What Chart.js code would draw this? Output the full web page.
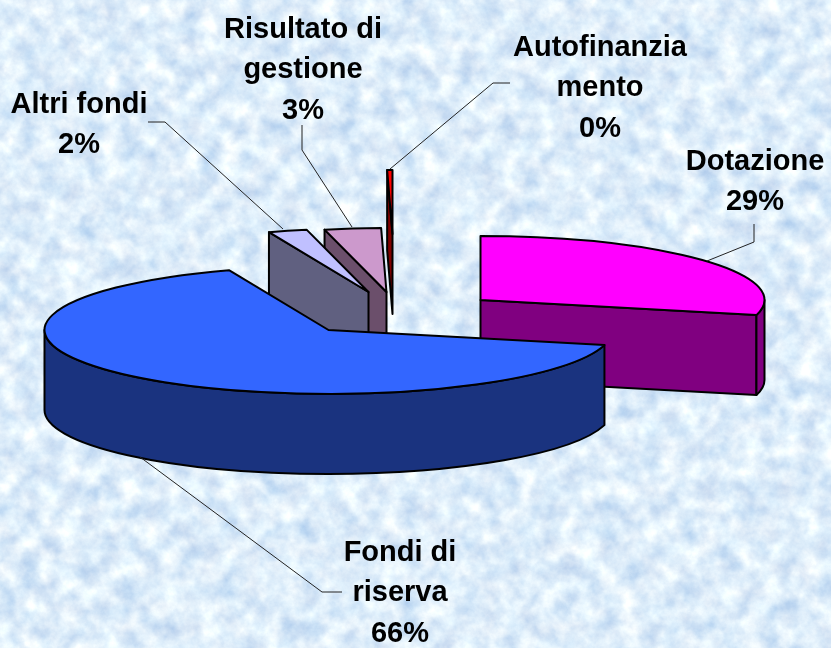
<!DOCTYPE html>
<html>
<head>
<meta charset="utf-8">
<style>
html,body{margin:0;padding:0;width:831px;height:648px;overflow:hidden;background:#dcebfb;}
#bg{position:absolute;left:0;top:0;}
#wrap{position:absolute;left:0;top:0;width:831px;height:648px;}
</style>
<script src="https://cdn.jsdelivr.net/npm/chart.js@4/dist/chart.umd.min.js"></script>
</head>
<body>
<svg id="bg" width="831" height="648" xmlns="http://www.w3.org/2000/svg">
  <filter id="mottle" x="0" y="0" width="100%" height="100%" color-interpolation-filters="sRGB">
    <feTurbulence type="fractalNoise" baseFrequency="0.05" numOctaves="5" seed="7"/>
    <feColorMatrix type="matrix" values="
      0.38 0.12 0 0 0.62
      0.28 0.05 0 0 0.765
      0.12 0    0 0 0.92
      0 0 0 0 1"/>
  </filter>
  <rect width="831" height="648" filter="url(#mottle)"/>
</svg>
<div id="wrap"><canvas id="c" width="831" height="648"></canvas></div>
<script>
// Data
const categories = ['Dotazione', 'Fondi di riserva', 'Altri fondi', 'Risultato di gestione', 'Autofinanziamento'];
const values = [28.8, 65.5, 2.2, 3.2, 0.3];
const labelLines = [['Dotazione'], ['Fondi di', 'riserva'], ['Altri fondi'], ['Risultato di', 'gestione'], ['Autofinanzia', 'mento']];

// Style
const topColors = ['#ff00ff', '#3366ff', '#c0c0ff', '#cc99cc', '#ff0000'];
const wallColors = ['#800080', '#1a337f', '#606080', '#6b4f6b', '#800000'];

// Layout of the exploded 3D look
const tilt = 0.225, depth = 80;
const sliceShift = [[65, -24], [-87, 6], [-47, -32], [-29, -32], [-23, -90]];
const paintOrder = [4, 3, 2, 0, 1];
const labelCentres = [[755, 159], [400, 550], [79, 102], [303, 27], [600, 45]];
const lineGap = 40.3;
const leaders = [
  [[754, 224], [754, 242], [707, 261]],
  [[342, 592], [322, 592], [140, 457]],
  [[148, 122], [165, 122], [283, 229]],
  [[302, 125], [302, 150], [352, 227]],
  [[510, 83], [493, 83], [390, 169]]
];

const pie3d = {
  id: 'pie3d',
  beforeDatasetsDraw(chart) {
    const ctx = chart.ctx;
    const arcs = chart.getDatasetMeta(0).data;
    ctx.save();
    ctx.lineJoin = 'round';
    ctx.strokeStyle = '#000';
    ctx.lineWidth = 2;
    paintOrder.forEach(i => {
      const arc = arcs[i];
      const R = arc.outerRadius, s = arc.startAngle, e = arc.endAngle;
      const cx = arc.x + sliceShift[i][0], cy = arc.y + sliceShift[i][1];
      const px = a => cx + R * Math.cos(a), py = a => cy + R * tilt * Math.sin(a);
      const finish = () => { ctx.closePath(); ctx.fillStyle = wallColors[i]; ctx.fill(); ctx.stroke(); };
      const radial = a => {
        ctx.beginPath();
        ctx.moveTo(cx, cy); ctx.lineTo(px(a), py(a));
        ctx.lineTo(px(a), py(a) + depth); ctx.lineTo(cx, cy + depth);
        finish();
      };
      if (Math.cos(s) < 0) radial(s);
      if (Math.cos(e) > 0) radial(e);
      const a0 = Math.max(s, 0), a1 = Math.min(e, Math.PI);
      if (a1 > a0) {
        ctx.beginPath();
        ctx.ellipse(cx, cy, R, R * tilt, 0, a0, a1);
        ctx.lineTo(px(a1), py(a1) + depth);
        ctx.ellipse(cx, cy + depth, R, R * tilt, 0, a1, a0, true);
        finish();
      }
      // top face, drawn by the library's own arc element
      ctx.save();
      ctx.translate(cx, cy);
      ctx.scale(1, tilt);
      ctx.translate(-arc.x, -arc.y);
      arc.draw(ctx);
      ctx.restore();
      ctx.beginPath();
      ctx.moveTo(cx, cy);
      ctx.ellipse(cx, cy, R, R * tilt, 0, s, e);
      ctx.closePath();
      ctx.stroke();
    });
    ctx.restore();
    return false;
  },
  afterDraw(chart) {
    const ctx = chart.ctx;
    ctx.save();
    ctx.strokeStyle = '#222';
    ctx.lineWidth = 1;
    leaders.forEach(pts => {
      ctx.beginPath();
      pts.forEach((p, j) => j ? ctx.lineTo(p[0], p[1]) : ctx.moveTo(p[0], p[1]));
      ctx.stroke();
    });
    ctx.fillStyle = '#000';
    ctx.font = 'bold 29px "Liberation Sans", Arial, sans-serif';
    ctx.textAlign = 'center';
    ctx.textBaseline = 'alphabetic';
    const total = values.reduce((a, b) => a + b, 0);
    labelLines.forEach((lines, i) => {
      const all = lines.concat(Math.round(values[i] / total * 100) + '%');
      all.forEach((t, j) => ctx.fillText(t, labelCentres[i][0], labelCentres[i][1] + 11 + j * lineGap));
    });
    ctx.restore();
  }
};

new Chart(document.getElementById('c'), {
  type: 'pie',
  data: {
    labels: categories,
    datasets: [{ data: values, backgroundColor: topColors, borderWidth: 0 }]
  },
  options: {
    responsive: false,
    animation: false,
    events: [],
    rotation: 0,
    layout: { padding: { top: 40, bottom: 40 } },
    plugins: { legend: { display: false }, tooltip: { enabled: false } }
  },
  plugins: [pie3d]
});
</script>
</body>
</html>
